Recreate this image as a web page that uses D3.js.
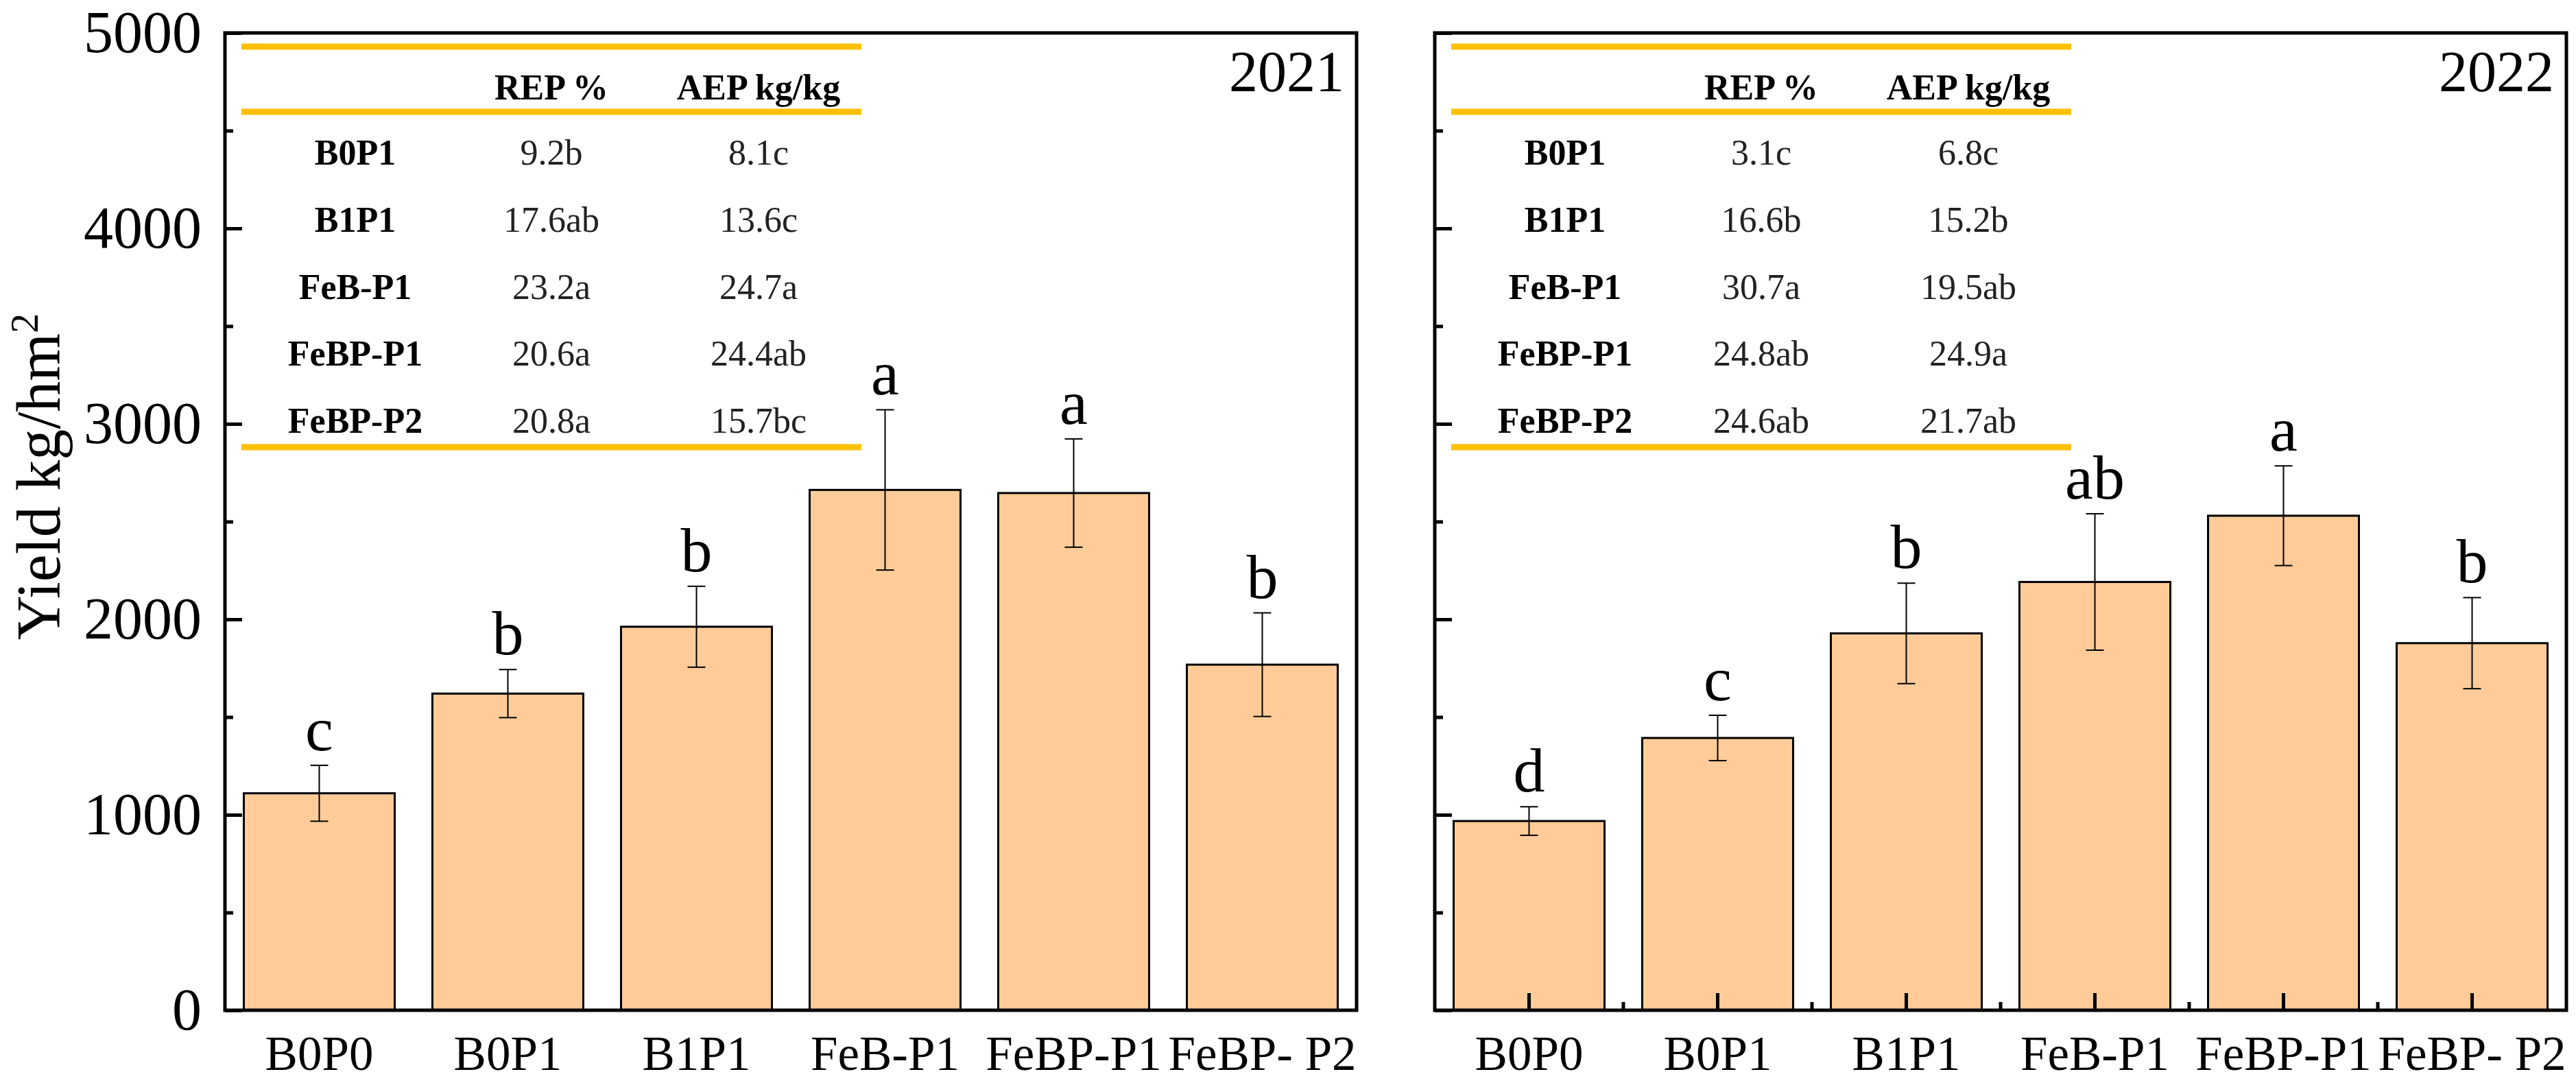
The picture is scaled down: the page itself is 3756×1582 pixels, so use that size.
<!DOCTYPE html>
<html>
<head>
<meta charset="utf-8">
<script src="https://cdn.jsdelivr.net/npm/d3@7"></script>
<style>
  body { margin: 0; background: #fff; }
</style>
</head>
<body>
<div id="chart"></div>
<script>
// Treatments on the x axis
const categories = ["B0P0", "B0P1", "B1P1", "FeB-P1", "FeBP-P1", "FeBP- P2"];

// Yield (kg/hm2), error and significance letters per year
const yield2021 = [1110, 1620, 1962, 2662, 2646, 1768];
const err2021 = [143, 123, 207, 410, 277, 265];
const sig2021 = ["c", "b", "b", "a", "a", "b"];

const yield2022 = [968, 1393, 1928, 2191, 2530, 1878];
const err2022 = [73, 116, 257, 349, 255, 233];
const sig2022 = ["d", "c", "b", "ab", "a", "b"];

// Inset tables
const tableRows = ["B0P1", "B1P1", "FeB-P1", "FeBP-P1", "FeBP-P2"];
const tableHeads = ["REP %", "AEP kg/kg"];
const rep2021 = ["9.2b", "17.6ab", "23.2a", "20.6a", "20.8a"];
const aep2021 = ["8.1c", "13.6c", "24.7a", "24.4ab", "15.7bc"];
const rep2022 = ["3.1c", "16.6b", "30.7a", "24.8ab", "24.6ab"];
const aep2022 = ["6.8c", "15.2b", "19.5ab", "24.9a", "21.7ab"];

// Y axis ticks
const majorTicks = [0, 1000, 2000, 3000, 4000, 5000];
const minorTicks = [500, 1500, 2500, 3500, 4500];

const width = 3756, height = 1582;
const font = "'Liberation Serif', 'Times New Roman', Times, serif";
const plotTop = 48, plotBottom = 1473;

const svg = d3.select("#chart")
    .append("svg")
    .attr("width", width)
    .attr("height", height)
    .style("display", "block")
    .style("font-family", font);

const y = d3.scaleLinear().domain([0, 5000]).range([plotBottom, plotTop]);

const panels = [
    { left: 328, right: 1978, year: "2021", values: yield2021, errors: err2021, letters: sig2021, rep: rep2021, aep: aep2021, labels: true },
    { left: 2092, right: 3742, year: "2022", values: yield2022, errors: err2022, letters: sig2022, rep: rep2022, aep: aep2022, labels: false }
];

panels.forEach(p => {
    const g = svg.append("g");

    const x = d3.scaleBand()
        .domain(categories)
        .range([p.left, p.right])
        .paddingInner(0.2)
        .paddingOuter(0.1);

    const data = categories.map((c, i) => ({ cat: c, v: p.values[i], e: p.errors[i], s: p.letters[i] }));

    // bars
    g.selectAll("rect.bar")
        .data(data)
        .join("rect")
        .attr("class", "bar")
        .attr("x", d => x(d.cat))
        .attr("y", d => y(d.v))
        .attr("width", x.bandwidth())
        .attr("height", d => y(0) - y(d.v))
        .attr("fill", "#FFCC99")
        .attr("stroke", "#000")
        .attr("stroke-width", 3);

    // error bars
    const eb = g.selectAll("g.err")
        .data(data)
        .join("g")
        .attr("class", "err")
        .attr("stroke", "#000")
        .attr("stroke-width", 2);
    eb.append("line")
        .attr("x1", d => x(d.cat) + x.bandwidth() / 2)
        .attr("x2", d => x(d.cat) + x.bandwidth() / 2)
        .attr("y1", d => y(d.v - d.e))
        .attr("y2", d => y(d.v + d.e));
    eb.append("line")
        .attr("x1", d => x(d.cat) + x.bandwidth() / 2 - 13)
        .attr("x2", d => x(d.cat) + x.bandwidth() / 2 + 13)
        .attr("y1", d => y(d.v + d.e))
        .attr("y2", d => y(d.v + d.e));
    eb.append("line")
        .attr("x1", d => x(d.cat) + x.bandwidth() / 2 - 13)
        .attr("x2", d => x(d.cat) + x.bandwidth() / 2 + 13)
        .attr("y1", d => y(d.v - d.e))
        .attr("y2", d => y(d.v - d.e));

    // significance letters
    g.selectAll("text.sig")
        .data(data)
        .join("text")
        .attr("class", "sig")
        .attr("x", d => x(d.cat) + x.bandwidth() / 2)
        .attr("y", d => y(d.v + d.e) - 22)
        .attr("text-anchor", "middle")
        .style("font-size", "92px")
        .text(d => d.s);

    // y axis, major and minor ticks pointing inward
    const yMajor = g.append("g")
        .attr("transform", `translate(${p.left},0)`)
        .call(d3.axisLeft(y).tickValues(majorTicks).tickSize(-25).tickPadding(34)
            .tickFormat(p.labels ? d3.format("d") : ""));
    const yMinor = g.append("g")
        .attr("transform", `translate(${p.left},0)`)
        .call(d3.axisLeft(y).tickValues(minorTicks).tickSize(-12).tickFormat(""));

    // x axis
    const xAxis = g.append("g")
        .attr("transform", `translate(0,${plotBottom})`)
        .call(d3.axisBottom(x).tickSize(p.labels ? 0 : -25).tickPadding(37));

    [yMajor, yMinor, xAxis].forEach(a => {
        a.select(".domain").remove();
        a.selectAll(".tick line").attr("stroke", "#000").attr("stroke-width", 5);
        a.selectAll(".tick text").attr("fill", "#000").style("font-family", font);
    });
    yMajor.selectAll(".tick text").style("font-size", "86px");
    xAxis.selectAll(".tick text").style("font-size", "71px");

    // minor x ticks between bars (right panel only)
    if (!p.labels) {
        const gap = x.step() * x.paddingInner() / 2;
        g.selectAll("line.xminor")
            .data(categories.slice(1))
            .join("line")
            .attr("class", "xminor")
            .attr("x1", d => x(d) - gap)
            .attr("x2", d => x(d) - gap)
            .attr("y1", plotBottom)
            .attr("y2", plotBottom - 12)
            .attr("stroke", "#000")
            .attr("stroke-width", 5);
    }

    // frame
    g.append("rect")
        .attr("x", p.left)
        .attr("y", plotTop)
        .attr("width", p.right - p.left)
        .attr("height", plotBottom - plotTop)
        .attr("fill", "none")
        .attr("stroke", "#000")
        .attr("stroke-width", 5);

    // year label
    g.append("text")
        .attr("x", p.right - 18)
        .attr("y", 133)
        .attr("text-anchor", "end")
        .style("font-size", "84px")
        .text(p.year);

    // inset table
    const t = g.append("g").attr("transform", `translate(${p.left},0)`);
    [68, 163, 652].forEach(ly => {
        t.append("line")
            .attr("x1", 24).attr("x2", 928)
            .attr("y1", ly).attr("y2", ly)
            .attr("stroke", "#FFC000")
            .attr("stroke-width", 9);
    });
    const colX = [190, 476, 778];
    tableHeads.forEach((h, i) => {
        t.append("text")
            .attr("x", colX[i + 1])
            .attr("y", 145)
            .attr("text-anchor", "middle")
            .style("font-size", "52px")
            .style("font-weight", "bold")
            .text(h);
    });
    const rowY = d3.scalePoint().domain(tableRows).range([240, 631]);
    tableRows.forEach((r, i) => {
        t.append("text")
            .attr("x", colX[0]).attr("y", rowY(r))
            .attr("text-anchor", "middle")
            .style("font-size", "52px")
            .style("font-weight", "bold")
            .text(r);
        t.append("text")
            .attr("x", colX[1]).attr("y", rowY(r))
            .attr("text-anchor", "middle")
            .attr("fill", "#222")
            .style("font-size", "52px")
            .text(p.rep[i]);
        t.append("text")
            .attr("x", colX[2]).attr("y", rowY(r))
            .attr("text-anchor", "middle")
            .attr("fill", "#222")
            .style("font-size", "52px")
            .text(p.aep[i]);
    });
});

// Y axis title
const yt = svg.append("text")
    .attr("transform", "translate(87,695) rotate(-90)")
    .attr("text-anchor", "middle")
    .style("font-size", "90px")
    .text("Yield kg/hm");
yt.append("tspan")
    .attr("baseline-shift", "super")
    .style("font-size", "58px")
    .text("2");
</script>
</body>
</html>
